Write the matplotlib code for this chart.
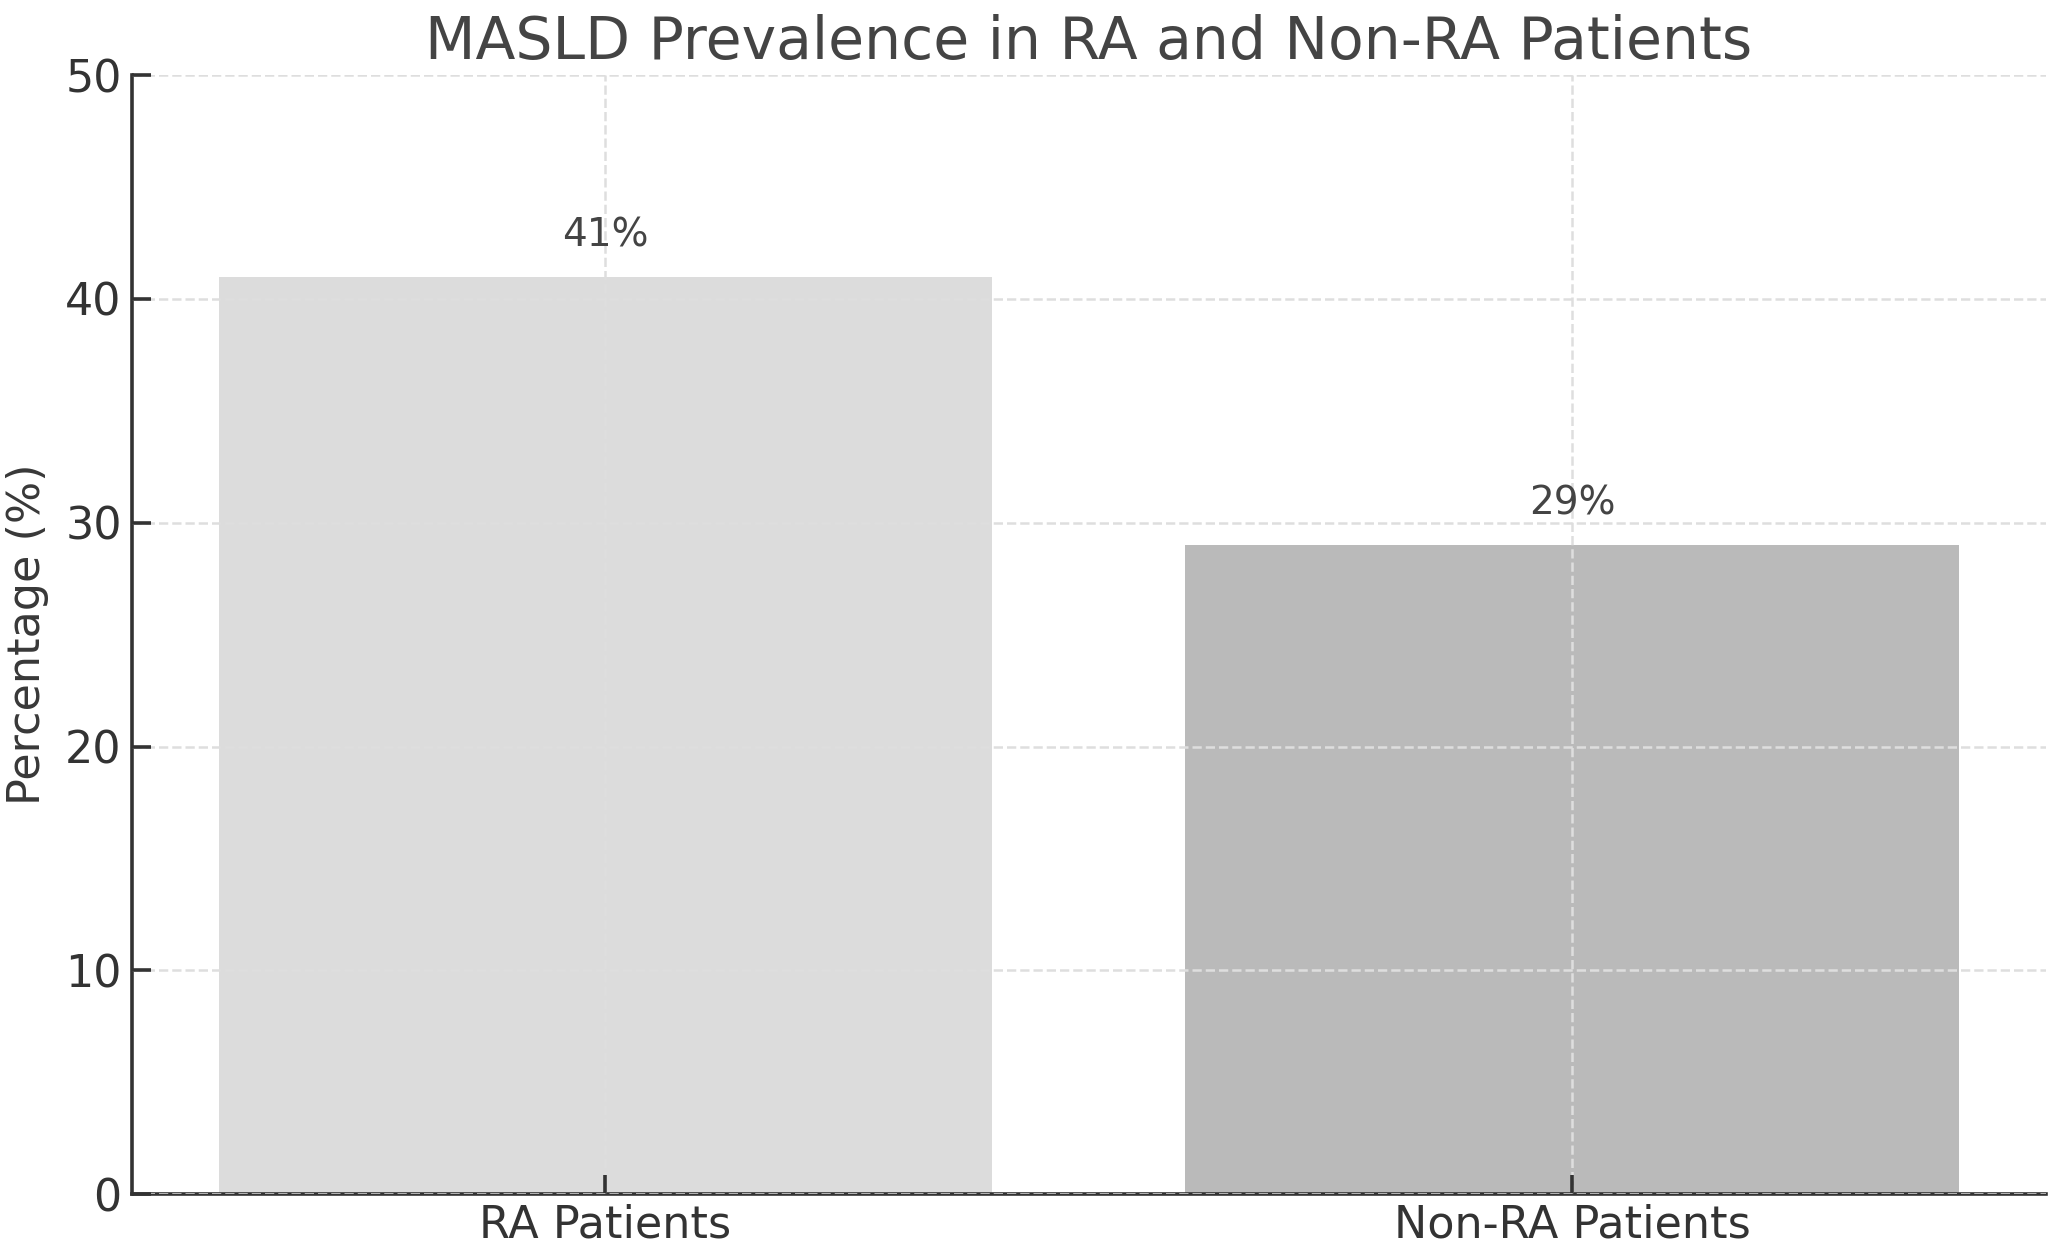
import matplotlib
matplotlib.use('Agg')
import matplotlib.pyplot as plt

# Data
categories = ['RA Patients', 'Non-RA Patients']
prevalence = [41, 29]
bar_colors = ['#dcdcdc', '#bababa']

fig = plt.figure(figsize=(10.28, 6.265), dpi=200)
ax = fig.add_axes([0.064, 0.047, 0.931, 0.893])

ax.bar(categories, prevalence, width=0.8, color=bar_colors, zorder=1)

# value labels above bars
for i, v in enumerate(prevalence):
    ax.text(i, v + 1, f'{v}%', ha='center', va='bottom', fontsize=14, color='#444444')

ax.set_ylim(0, 50)
ax.set_yticks([0, 10, 20, 30, 40, 50])
ax.set_title('MASLD Prevalence in RA and Non-RA Patients', fontsize=21, color='#444444', pad=6)
ax.set_ylabel('Percentage (%)', fontsize=16, color='#383838', labelpad=6)

ax.grid(True, linestyle='--', color='#dedede', linewidth=0.9, zorder=2)
ax.set_axisbelow(False)

ax.spines['top'].set_visible(False)
ax.spines['right'].set_visible(False)
for s in ['left', 'bottom']:
    ax.spines[s].set_color('#333333')
    ax.spines[s].set_linewidth(1.3)
ax.tick_params(axis='both', direction='in', length=7, width=1.3, color='#333333',
               labelsize=16, labelcolor='#333333')

plt.savefig('out.png', dpi=200)
